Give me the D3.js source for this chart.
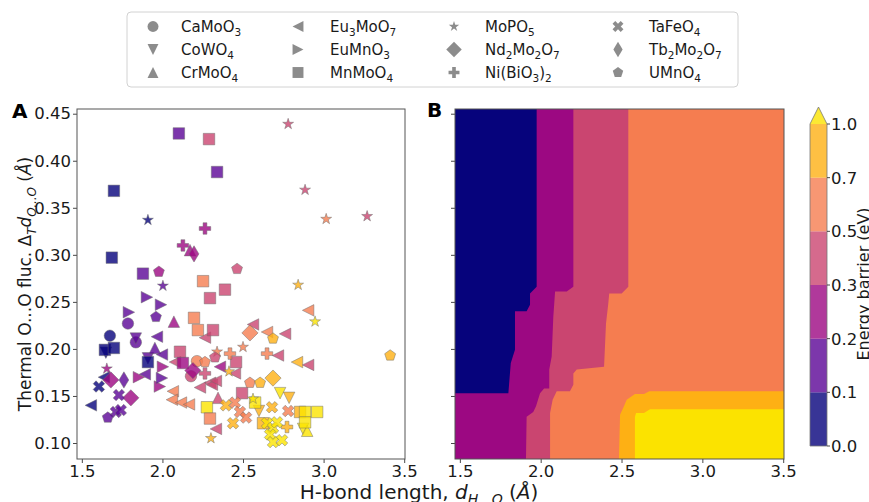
<!DOCTYPE html>
<html><head><meta charset="utf-8">
<script src="https://cdn.jsdelivr.net/npm/d3@7"></script>
<style>
body{margin:0;background:#fff}
svg{display:block}
text{font-family:"DejaVu Sans",sans-serif}
</style>
</head><body>
<svg id="fig" width="869" height="502"></svg>
<script>
// ---- data ----
const materials = ["CaMoO_3","CoWO_4","CrMoO_4","Eu_3MoO_7","EuMnO_3","MnMoO_4",
                   "MoPO_5","Nd_2Mo_2O_7","Ni(BiO_3)_2","TaFeO_4","Tb_2Mo_2O_7","UMnO_4"];
const markerKinds = ["circle","triDown","triUp","triLeft","triRight","square",
                     "star","diamond","plus","cross","thinDiamond","pentagon"];
const energyLevels = [0, 0.1, 0.2, 0.3, 0.5, 0.7, 1.0];
const levelLabels = ["0.0","0.1","0.2","0.3","0.5","0.7","1.0"];
const xTicks = [1.5, 2.0, 2.5, 3.0, 3.5];
const yTicks = [0.10, 0.15, 0.20, 0.25, 0.30, 0.35, 0.40, 0.45];

// [H-bond length, O...O fluctuation, energy barrier, material index]
const points = [
  [2.102,0.429,0.15,5],[2.289,0.423,0.4,5],[2.339,0.388,0.15,5],[2.780,0.439,0.4,6],
  [2.885,0.369,0.4,6],[3.016,0.338,0.6,6],[3.270,0.341,0.4,6],[1.699,0.368,0.05,5],
  [1.910,0.337,0.05,6],[1.686,0.297,0.05,5],[2.264,0.328,0.25,8],[2.127,0.310,0.25,8],
  [2.196,0.301,0.25,10],[2.171,0.305,0.25,2],[1.879,0.280,0.15,5],[1.978,0.282,0.25,11],
  [2.003,0.267,0.15,6],[1.904,0.255,0.15,4],[1.991,0.247,0.15,4],[2.252,0.272,0.6,5],
  [2.295,0.254,0.4,5],[2.463,0.285,0.4,11],[2.388,0.263,0.4,5],[2.842,0.268,0.85,6],
  [2.904,0.241,0.6,3],[2.947,0.229,1.1,6],[3.413,0.193,0.85,11],[1.792,0.239,0.15,4],
  [1.960,0.234,0.15,11],[2.071,0.229,0.25,2],[1.786,0.227,0.15,0],[1.674,0.214,0.05,0],
  [1.835,0.207,0.15,0],[1.835,0.211,0.15,1],[1.966,0.213,0.15,3],[1.643,0.199,0.05,5],
  [1.699,0.201,0.05,5],[1.649,0.196,0.05,1],[1.953,0.201,0.15,2],[2.196,0.233,0.6,5],
  [2.220,0.220,0.6,5],[2.314,0.220,0.4,5],[2.264,0.212,0.4,3],[2.109,0.197,0.4,5],
  [2.562,0.226,0.4,3],[2.543,0.217,0.6,7],[2.649,0.218,0.6,3],[2.761,0.216,0.4,3],
  [2.686,0.211,0.85,11],[2.500,0.202,0.6,6],[2.419,0.195,0.6,8],[2.649,0.195,0.6,8],
  [2.717,0.193,0.4,3],[2.835,0.186,0.85,3],[2.904,0.183,0.4,3],[2.189,0.177,0.25,7],
  [2.177,0.171,0.4,0],[2.264,0.186,0.6,11],[2.264,0.174,0.4,8],[2.326,0.191,0.4,11],
  [2.457,0.186,0.4,5],[2.357,0.181,0.25,3],[2.413,0.176,0.85,6],[2.450,0.174,0.4,3],
  [2.295,0.164,0.4,3],[2.543,0.164,0.6,11],[2.606,0.164,0.85,11],[2.686,0.169,0.85,7],
  [2.494,0.153,0.4,5],[2.562,0.147,1.1,6],[2.575,0.143,1.1,5],[2.730,0.153,1.1,1],
  [2.786,0.148,0.85,1],[2.394,0.140,0.85,9],[2.450,0.143,0.6,9],[2.481,0.133,0.6,9],
  [2.519,0.127,0.6,9],[2.438,0.121,0.85,9],[2.599,0.134,0.85,1],[2.680,0.138,0.85,9],
  [2.780,0.134,0.6,9],[2.854,0.133,0.85,5],[2.885,0.133,1.1,5],[2.960,0.133,1.1,5],
  [2.885,0.122,1.1,5],[2.873,0.115,1.1,1],[2.898,0.113,1.1,2],[2.624,0.121,0.85,5],
  [2.649,0.121,1.1,9],[2.686,0.116,1.1,9],[2.711,0.122,1.1,9],[2.773,0.117,0.85,8],
  [2.668,0.109,1.1,9],[2.686,0.101,1.1,9],[2.742,0.103,1.1,9],[2.276,0.138,1.1,5],
  [2.295,0.126,0.6,5],[2.332,0.115,0.4,3],[2.301,0.105,0.85,6],[2.345,0.148,0.4,2],
  [2.065,0.155,0.6,3],[2.059,0.146,0.6,3],[2.115,0.143,0.6,3],[2.165,0.141,0.6,3],
  [2.233,0.159,0.4,3],[2.307,0.162,0.4,3],[2.332,0.166,0.4,3],[1.984,0.160,0.25,4],
  [2.003,0.181,0.25,4],[1.997,0.169,0.15,4],[1.910,0.186,0.05,5],[1.891,0.173,0.15,3],
  [1.854,0.170,0.25,4],[1.655,0.179,0.25,6],[1.637,0.170,0.05,3],[1.680,0.167,0.25,7],
  [1.761,0.167,0.15,10],[1.606,0.160,0.05,9],[1.556,0.140,0.05,3],[1.730,0.151,0.15,9],
  [1.804,0.148,0.25,7],[1.711,0.133,0.15,9],[1.742,0.135,0.15,9],[1.661,0.127,0.15,11],
  [1.997,0.194,0.15,3],[2.078,0.186,0.4,3],[2.127,0.185,0.25,5],[1.910,0.190,0.15,1],
  [2.339,0.197,0.6,6],[2.214,0.187,0.6,0]
];

// filled-contour bands of the fitted energy surface: boundary of each band
// (traced from the top or right edge down to the bottom or left edge)
const regionEnergy = {orange:0.6, pink:0.4, purple:0.25, navy:0.05, amber:0.85, yellow:1.1};
const pinkEdge = [[2.542,0.455],[2.542,0.266],[2.501,0.259],[2.424,0.259],[2.418,0.248],
  [2.404,0.227],[2.392,0.181],[2.223,0.178],[2.202,0.174],[2.202,0.162],[2.181,0.155],
  [2.099,0.155],[2.074,0.146],[2.058,0.132],[2.058,0.083]];
const purpleEdge = [[2.202,0.455],[2.202,0.266],[2.161,0.261],[2.089,0.261],[2.078,0.234],
  [2.068,0.192],[2.053,0.178],[2.053,0.158],[2.021,0.158],[1.996,0.153],[1.971,0.139],
  [1.954,0.133],[1.913,0.128],[1.909,0.083]];
const navyEdge = [[1.975,0.455],[1.975,0.266],[1.934,0.259],[1.934,0.247],[1.913,0.240],
  [1.841,0.240],[1.841,0.199],[1.815,0.185],[1.800,0.153],[1.470,0.153]];
const amberEdge = [[3.505,0.155],[2.672,0.155],[2.639,0.152],[2.583,0.152],[2.532,0.146],
  [2.515,0.139],[2.491,0.130],[2.484,0.083]];
const yellowEdge = [[3.505,0.136],[2.676,0.136],[2.639,0.132],[2.590,0.132],[2.583,0.128],
  [2.583,0.083]];

// ---- styles ----
const bandColors = ["#06037c","#5b0596","#9c0882","#ca4570","#f57d50","#feb014","#fbe300"];
const color = d3.scaleThreshold().domain(energyLevels.slice(1)).range(bandColors);
const FONT = "DejaVu Sans";
const MS = 11.5;

const svg = d3.select("#fig");

// ---- scales ----
const xDom = [1.47, 3.505], yDom = [0.083, 0.455];
const xA = d3.scaleLinear().domain(xDom).range([77, 405]);
const xB = d3.scaleLinear().domain(xDom).range([455, 784]);
const y = d3.scaleLinear().domain(yDom).range([459, 109]);

// ---- marker shapes (unit-size outlines) ----
function poly(pts, s) {
  return "M" + pts.map(p => (p[0]*s).toFixed(2) + "," + (p[1]*s).toFixed(2)).join("L") + "Z";
}
function regular(n, r, rInner) {
  const pts = [];
  const k = rInner ? 2*n : n;
  for (let i = 0; i < k; i++) {
    const a = -Math.PI/2 + i*2*Math.PI/k;
    const rr = rInner && (i % 2) ? rInner : r;
    pts.push([rr*Math.cos(a), rr*Math.sin(a)]);
  }
  return pts;
}
function markerPath(kind, s) {
  switch (kind) {
    case "circle": { const r = s/2; return `M${r},0A${r},${r} 0 1,1 ${-r},0A${r},${r} 0 1,1 ${r},0Z`; }
    case "triUp": return poly([[0,-0.5],[-0.5,0.5],[0.5,0.5]], s);
    case "triDown": return poly([[0,0.5],[-0.5,-0.5],[0.5,-0.5]], s);
    case "triLeft": return poly([[-0.5,0],[0.5,-0.5],[0.5,0.5]], s);
    case "triRight": return poly([[0.5,0],[-0.5,-0.5],[-0.5,0.5]], s);
    case "square": return poly([[-0.5,-0.5],[0.5,-0.5],[0.5,0.5],[-0.5,0.5]], s);
    case "diamond": return poly([[0,-0.707],[0.707,0],[0,0.707],[-0.707,0]], s);
    case "thinDiamond": return poly([[0,-0.707],[0.424,0],[0,0.707],[-0.424,0]], s);
    case "star": return poly(regular(5, 0.5, 0.5*0.381966), s);
    case "pentagon": return poly(regular(5, 0.5), s);
    case "plus": return poly([[-1,-3],[1,-3],[1,-1],[3,-1],[3,1],[1,1],[1,3],[-1,3],[-1,1],[-3,1],[-3,-1],[-1,-1]].map(p=>[p[0]/6,p[1]/6]), s);
    case "cross": return poly([[-1,-2],[0,-1],[1,-2],[2,-1],[1,0],[2,1],[1,2],[0,1],[-1,2],[-2,1],[-1,0],[-2,-1]].map(p=>[p[0]/4,p[1]/4]), s);
  }
}

// ---- rich text helper: parts = [{t, it, sub}] ----
function richText(g, parts, size) {
  const shift = size * 0.28;
  let down = false;
  parts.forEach(p => {
    const ts = g.append("tspan").text(p.t);
    if (p.it) ts.attr("font-style", "italic");
    if (p.sub) {
      ts.attr("font-size", (size*0.7).toFixed(2));
      if (!down) { ts.attr("dy", shift); down = true; }
    } else if (down) { ts.attr("dy", -shift); down = false; }
  });
}
function chemParts(name) {
  const parts = [];
  const re = /_(\d)|([^_]+)/g;
  let m;
  while ((m = re.exec(name))) {
    if (m[1]) parts.push({t: m[1], sub: true});
    else parts.push({t: m[2]});
  }
  return parts;
}

// ---- panel A: scatter ----
const clipA = svg.append("clipPath").attr("id","clipA").append("rect")
  .attr("x", 77).attr("y", 109).attr("width", 328).attr("height", 350);
const gA = svg.append("g").attr("clip-path","url(#clipA)");
const ordered = points.map((p,i)=>({p,i})).sort((a,b)=> a.p[3]-b.p[3] || a.i-b.i).map(d=>d.p);
gA.selectAll("path.pt").data(ordered).join("path")
  .attr("class","pt")
  .attr("transform", d => `translate(${xA(d[0])},${y(d[1])})`)
  .attr("d", d => markerPath(markerKinds[d[3]], MS))
  .attr("fill", d => color(d[2]))
  .attr("fill-opacity", 0.8)
  .attr("stroke", "#6e6e6e")
  .attr("stroke-opacity", 0.8)
  .attr("stroke-width", 0.6);

// ---- panel B: filled contours ----
const clipB = svg.append("clipPath").attr("id","clipB").append("rect")
  .attr("x", 455).attr("y", 109).attr("width", 329).attr("height", 350);
const gB = svg.append("g").attr("clip-path","url(#clipB)");
const line = d3.line().x(d => xB(d[0])).y(d => y(d[1]));
const L = xDom[0], R = xDom[1], T = yDom[1], Bm = yDom[0];
gB.append("path").attr("d", line([[L,T],[R,T],[R,Bm],[L,Bm]]) + "Z").attr("fill", color(regionEnergy.orange));
gB.append("path").attr("d", line([[L,T], ...pinkEdge, [L,Bm]]) + "Z").attr("fill", color(regionEnergy.pink));
gB.append("path").attr("d", line([[L,T], ...purpleEdge, [L,Bm]]) + "Z").attr("fill", color(regionEnergy.purple));
gB.append("path").attr("d", line([[L,T], ...navyEdge]) + "Z").attr("fill", color(regionEnergy.navy));
gB.append("path").attr("d", line([...amberEdge, [R,Bm]]) + "Z").attr("fill", color(regionEnergy.amber));
gB.append("path").attr("d", line([...yellowEdge, [R,Bm]]) + "Z").attr("fill", color(regionEnergy.yellow));

// ---- axes ----
function styleAxis(g, size) {
  g.select(".domain").remove();
  g.selectAll(".tick line").attr("stroke", "#333").attr("stroke-width", 0.9);
  g.selectAll(".tick text").attr("font-family", FONT).attr("font-size", size).attr("fill", "#1a1a1a");
}
const fmtX = d3.format(".1f"), fmtY = d3.format(".2f");
svg.append("g").attr("transform","translate(0,459)")
  .call(d3.axisBottom(xA).tickValues(xTicks).tickFormat(fmtX).tickSize(4).tickPadding(2))
  .call(g => styleAxis(g, 16.5));
svg.append("g").attr("transform","translate(77,0)")
  .call(d3.axisLeft(y).tickValues(yTicks).tickFormat(fmtY).tickSize(4).tickPadding(2))
  .call(g => styleAxis(g, 16.5));
svg.append("g").attr("transform","translate(0,459)")
  .call(d3.axisBottom(xB).tickValues(xTicks).tickFormat(fmtX).tickSize(4).tickPadding(2))
  .call(g => styleAxis(g, 16.5));
svg.append("g").attr("transform","translate(455,0)")
  .call(d3.axisLeft(y).tickValues(yTicks).tickFormat("").tickSize(4))
  .call(g => styleAxis(g, 16.5));

// frames
[[xA, "A"], [xB, "B"]].forEach(([xs]) => {
  svg.append("rect")
    .attr("x", xs.range()[0]).attr("y", y.range()[1])
    .attr("width", xs.range()[1]-xs.range()[0]).attr("height", y.range()[0]-y.range()[1])
    .attr("fill","none").attr("stroke","#555").attr("stroke-width",1);
});

// panel letters
svg.append("text").attr("x", 12).attr("y", 118).attr("font-size", 20).attr("font-weight","bold")
  .attr("font-family", FONT).text("A");
svg.append("text").attr("x", 427).attr("y", 117).attr("font-size", 20).attr("font-weight","bold")
  .attr("font-family", FONT).text("B");

// axis titles
const xt = svg.append("text").attr("x", 419).attr("y", 498.5).attr("text-anchor","middle")
  .attr("font-family", FONT).attr("font-size", 20).attr("fill","#1a1a1a");
richText(xt, [{t:"H-bond length, "},{t:"d",it:true},{t:"H...O",it:true,sub:true},{t:" ("},{t:"Å",it:true},{t:")"}], 20);

const yt = svg.append("text").attr("transform","translate(31,284) rotate(-90)").attr("text-anchor","middle")
  .attr("font-family", FONT).attr("font-size", 17).attr("fill","#1a1a1a");
richText(yt, [{t:"Thermal O...O fluc. Δ"},{t:"T",it:true,sub:true},{t:"d",it:true},{t:"O...O",it:true,sub:true},{t:" ("},{t:"Å",it:true},{t:")"}], 17);

// ---- colorbar ----
const cbX0 = 810, cbX1 = 827;
const cbY = d3.scaleLinear().domain([0, energyLevels.length-1]).range([446, 124]);
const cb = svg.append("g");
d3.range(energyLevels.length-1).forEach(i => {
  cb.append("rect").attr("x", cbX0).attr("width", cbX1-cbX0)
    .attr("y", cbY(i+1)).attr("height", cbY(i)-cbY(i+1))
    .attr("fill", color((energyLevels[i]+energyLevels[i+1])/2)).attr("fill-opacity", 0.8);
});
const apex = cbY(energyLevels.length-1) - 17;
cb.append("path")
  .attr("d", `M${cbX0},${cbY(6)}L${(cbX0+cbX1)/2},${apex}L${cbX1},${cbY(6)}Z`)
  .attr("fill", color(1.1)).attr("fill-opacity", 0.8);
cb.append("path")
  .attr("d", `M${cbX0},${cbY(0)}L${cbX0},${cbY(6)}L${(cbX0+cbX1)/2},${apex}L${cbX1},${cbY(6)}L${cbX1},${cbY(0)}Z`)
  .attr("fill","none").attr("stroke","#777").attr("stroke-width",0.8);
levelLabels.forEach((lab, i) => {
  cb.append("line").attr("x1", cbX1).attr("x2", cbX1+3).attr("y1", cbY(i)).attr("y2", cbY(i))
    .attr("stroke","#333").attr("stroke-width",0.9);
  cb.append("text").attr("x", cbX1+4).attr("y", cbY(i)).attr("dy","0.36em")
    .attr("font-family", FONT).attr("font-size", 16.5).attr("fill","#1a1a1a").text(lab);
});
svg.append("text").attr("transform","translate(868.5,284) rotate(-90)").attr("text-anchor","middle")
  .attr("font-family", FONT).attr("font-size", 16).attr("fill","#1a1a1a").text("Energy barrier (eV)");

// ---- legend ----
const lg = svg.append("g");
lg.append("rect").attr("x",127).attr("y",12).attr("width",611).attr("height",75).attr("rx",4)
  .attr("fill","#fff").attr("fill-opacity",0.8).attr("stroke","#d2d2d2").attr("stroke-width",1);
const colMarkX = [153, 298, 454, 618], colTextX = [181, 330, 485, 649], rowY = [26.5, 49.5, 72.5];
materials.forEach((name, i) => {
  const c = Math.floor(i/3), r = i % 3;
  lg.append("path").attr("transform", `translate(${colMarkX[c]},${rowY[r]})`)
    .attr("d", markerPath(markerKinds[i], MS*0.95)).attr("fill","#7f7f7f").attr("fill-opacity",0.9);
  const t = lg.append("text").attr("x", colTextX[c]).attr("y", rowY[r] + 5.5)
    .attr("font-family", FONT).attr("font-size", 15).attr("fill","#1a1a1a");
  richText(t, chemParts(name), 15);
});
</script>
</body></html>
